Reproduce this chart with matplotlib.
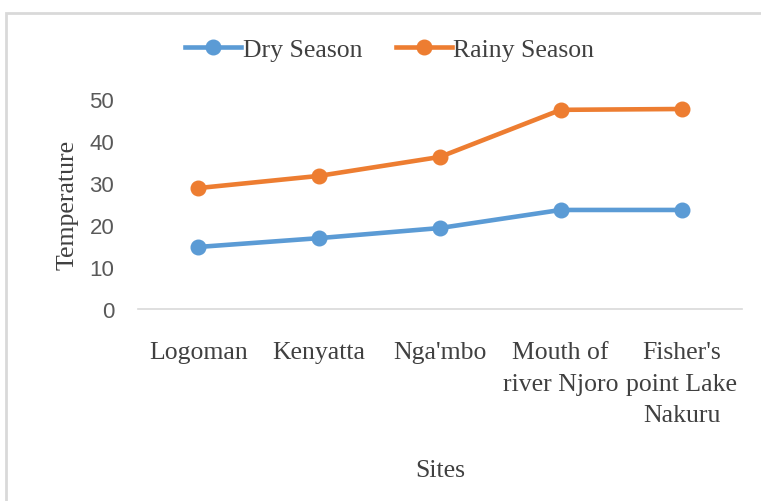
import numpy as np
import matplotlib.pyplot as plt
from matplotlib.patches import Rectangle

sites = ["Logoman", "Kenyatta", "Nga'mbo", "Mouth of\nriver Njoro", "Fisher's\npoint Lake\nNakuru"]
dry_season = [14.8, 16.9, 19.3, 23.6, 23.6]
rainy_season = [28.8, 31.7, 36.2, 47.4, 47.6]
yticks = [0, 10, 20, 30, 40, 50]

serif = "Liberation Serif"
txt_color = "#404040"

fig = plt.figure(figsize=(7.61, 5.02), dpi=100)
ax = fig.add_axes([0.181, 0.382, 0.794, 0.419])

x = np.arange(len(sites))
ax.plot(x, dry_season, color="#5B9BD5", lw=3.3, marker="o", ms=10.5, label="Dry Season")
ax.plot(x, rainy_season, color="#ED7D31", lw=3.3, marker="o", ms=10.5, label="Rainy Season")

ax.set_xlim(-0.5, len(sites) - 0.5)
ax.set_ylim(0, 50)
ax.set_yticks(yticks)
ax.set_xticks(x)
ax.set_xticklabels(sites, fontfamily=serif, fontsize=18.5, color=txt_color, linespacing=1.55)
ax.set_yticklabels([str(v) for v in yticks], fontfamily=["Liberation Sans Narrow", "Liberation Sans"],
                   fontsize=16, color="#595959")
ax.tick_params(axis="x", length=0, pad=23)
ax.tick_params(axis="y", length=0, pad=17)

for s in ["top", "right", "left"]:
    ax.spines[s].set_visible(False)
ax.spines["bottom"].set_color("#D9D9D9")
ax.spines["bottom"].set_linewidth(1.2)

ax.set_xlabel("Sites", fontfamily=serif, fontsize=18.5, color=txt_color, labelpad=24)
ax.set_ylabel("Temperature", fontfamily=serif, fontsize=18.5, color=txt_color, labelpad=8)

leg = fig.legend(loc="center", bbox_to_anchor=(0.512, 0.9), ncol=2, frameon=False,
                 prop={"family": serif, "size": 18.5}, handlelength=2.2, handletextpad=0.05,
                 columnspacing=1.3)
for t in leg.get_texts():
    t.set_color(txt_color)

# chart border
fig.patches.append(Rectangle((6 / 761, -0.1), 1.2, 1 - 14 / 502 + 0.1, transform=fig.transFigure,
                             fill=False, edgecolor="#D9D9D9", lw=2))

fig.savefig("out.png", dpi=100)
